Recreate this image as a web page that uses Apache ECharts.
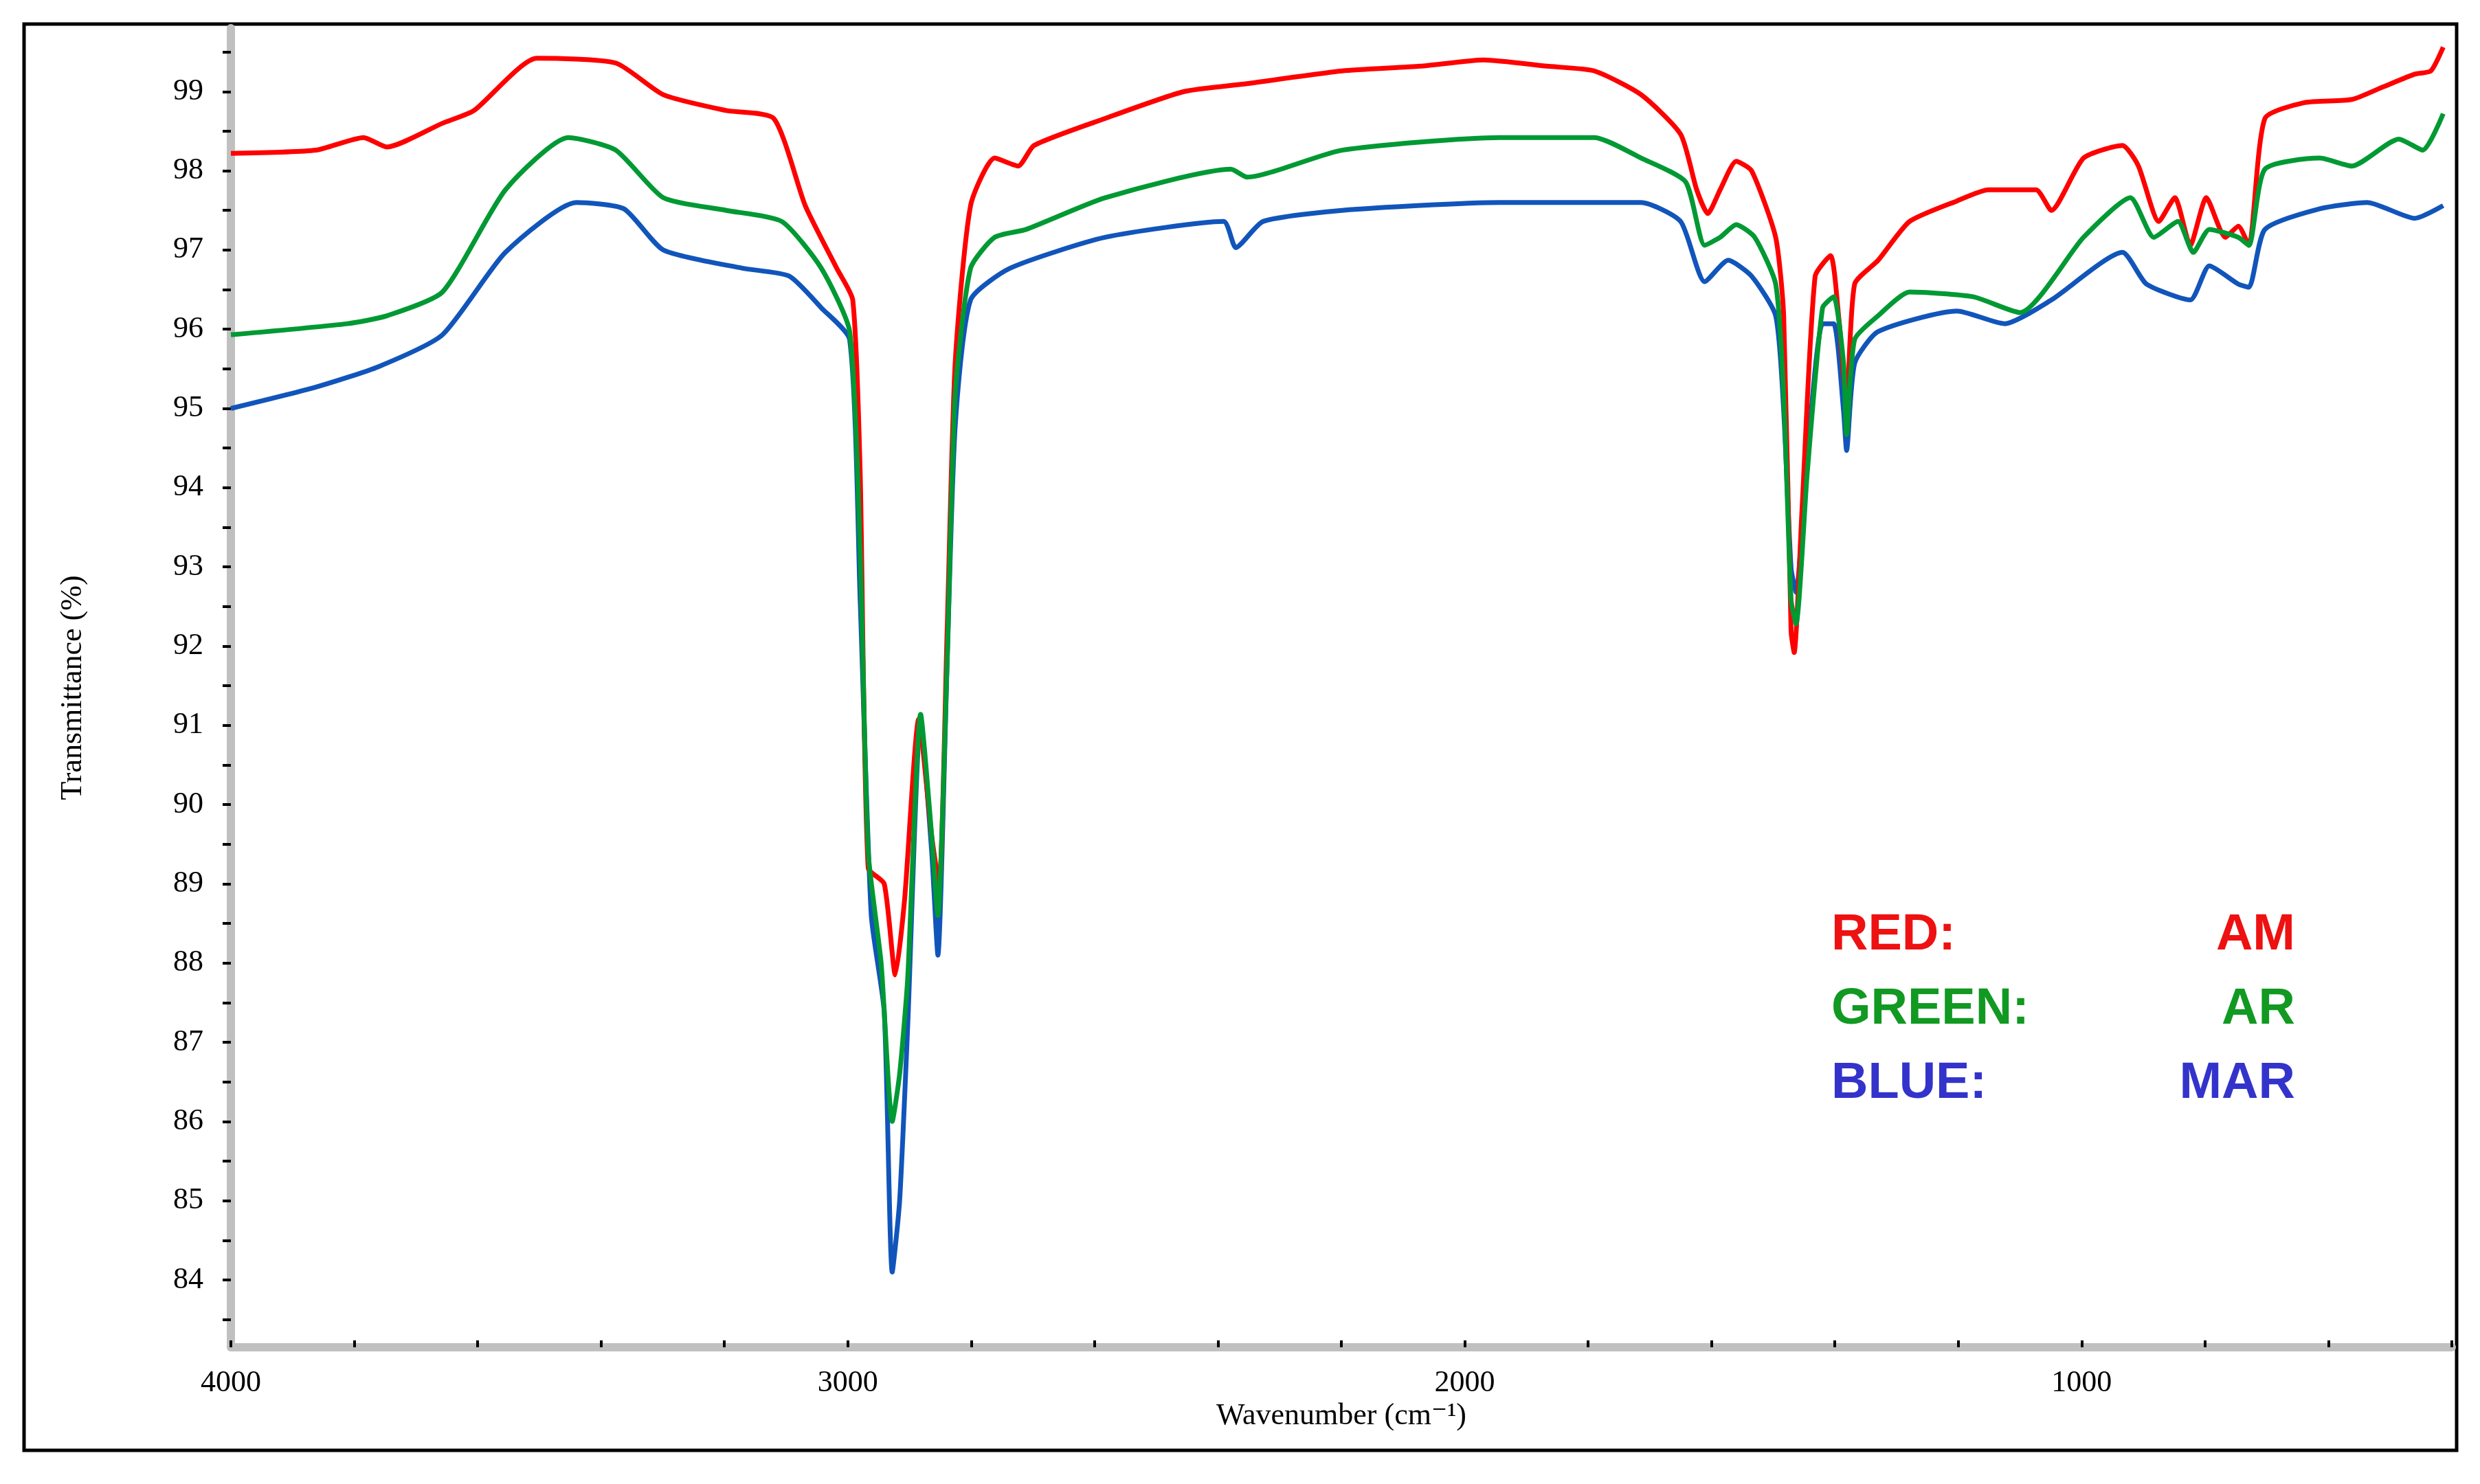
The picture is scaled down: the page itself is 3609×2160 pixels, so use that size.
<!DOCTYPE html>
<html><head><meta charset="utf-8">
<script src="https://cdn.jsdelivr.net/npm/echarts@6/dist/echarts.min.js"></script>
<style>html,body{margin:0;padding:0;background:#fff}#c{width:3609px;height:2160px}</style>
</head><body><div id="c"></div>
<script>
const redWn=[4000,3862,3785,3747,3657,3606,3504,3376,3299,3197,3120,3069,3018,2992,2980,2967,2941,2923,2908,2885,2864,2852,2839,2826,2801,2762,2724,2698,2583,2455,2353,2199,2072,1969,1867,1790,1714,1650,1624,1606,1586,1560,1535,1496,1483,1471,1466,1453,1432,1407,1394,1381,1368,1330,1279,1202,1151,1074,1049,997,934,908,875,849,824,798,767,746,729,703,639,562,511,460,434,414];
const redT=[98.22,98.26,98.42,98.3,98.6,98.76,99.42,99.36,98.96,98.76,98.66,97.56,96.77,96.37,94.2,89.2,89.0,87.85,88.8,91.08,89.6,88.98,92.2,95.57,97.56,98.16,98.06,98.32,98.66,99.0,99.1,99.26,99.32,99.4,99.32,99.26,98.96,98.46,97.76,97.46,97.76,98.12,98.0,97.16,96.17,92.18,91.92,93.77,96.67,96.93,96.17,95.07,96.57,96.87,97.36,97.62,97.76,97.76,97.5,98.16,98.32,98.06,97.36,97.66,97.06,97.66,97.16,97.3,97.06,98.66,98.86,98.9,99.06,99.22,99.26,99.56];
const greenWn=[4000,3811,3747,3657,3555,3453,3376,3299,3197,3107,3043,2997,2980,2967,2946,2928,2916,2903,2882,2864,2854,2839,2826,2801,2762,2711,2583,2379,2353,2199,1944,1790,1714,1642,1611,1586,1560,1530,1496,1483,1471,1463,1445,1420,1402,1386,1381,1368,1330,1279,1176,1100,997,921,883,844,819,793,746,729,703,614,562,486,447,414];
const greenT=[95.93,96.07,96.17,96.47,97.76,98.42,98.26,97.66,97.5,97.36,96.77,95.97,93.2,89.4,88.0,86.0,86.6,87.8,91.14,89.6,88.6,91.8,95.17,96.77,97.16,97.26,97.66,98.02,97.92,98.26,98.42,98.42,98.16,97.86,97.06,97.16,97.32,97.16,96.57,95.17,92.58,92.28,94.17,96.27,96.41,95.57,94.67,95.87,96.17,96.47,96.41,96.21,97.16,97.66,97.16,97.36,96.97,97.26,97.16,97.06,98.02,98.16,98.06,98.4,98.26,98.72];
const blueWn=[4000,3862,3760,3657,3555,3440,3363,3299,3171,3095,3043,2997,2980,2962,2941,2928,2916,2903,2882,2864,2854,2839,2826,2801,2737,2583,2391,2371,2327,2199,1944,1714,1650,1611,1573,1535,1496,1483,1471,1463,1445,1420,1402,1386,1381,1368,1330,1202,1125,1049,934,895,824,793,746,729,703,614,537,460,414];
const blueT=[95.0,95.27,95.53,95.93,96.97,97.6,97.52,97.0,96.77,96.67,96.27,95.87,92.58,88.6,87.39,84.1,85.0,87.19,91.08,89.4,88.1,91.8,94.77,96.37,96.77,97.16,97.36,97.03,97.36,97.5,97.6,97.6,97.36,96.6,96.87,96.67,96.17,94.97,92.98,92.68,94.37,96.07,96.07,94.97,94.47,95.57,95.97,96.23,96.07,96.37,96.97,96.57,96.37,96.8,96.57,96.53,97.26,97.52,97.6,97.4,97.56];
const yTickLabels=[84,85,86,87,88,89,90,91,92,93,94,95,96,97,98,99];
const xTickLabels=[1000,2000,3000,4000];
const xMinorTicks=[];for(let v=4000;v>=400;v-=200)xMinorTicks.push(v);
const yTicks=[];for(let v=83.5;v<=99.5;v+=0.5)yTicks.push(v);
const legendRows=[["RED:","AM","#ee1111"],["GREEN:","AR","#119922"],["BLUE:","MAR","#3333cc"]];
const zip=(a,b)=>a.map((v,i)=>[v,b[i]]);
const chart=echarts.init(document.getElementById('c'));
const lineS=(n,wn,t,c,z)=>({name:n,type:'line',data:zip(wn,t),showSymbol:false,smooth:0.2,z:z,lineStyle:{color:c,width:7},itemStyle:{color:c}});
const serif='"Liberation Serif","DejaVu Serif",serif';
const g=[{type:'rect',shape:{x:35,y:35,width:3540,height:2076},style:{fill:'none',stroke:'#000',lineWidth:5},z:0}];
legendRows.forEach((r,i)=>{
 g.push({type:'text',left:2665,top:1325+i*108,style:{text:r[0],fill:r[2],font:'bold 74px "Liberation Sans",Arial,sans-serif'}});
 g.push({type:'text',right:3609-3340,top:1325+i*108,style:{text:r[1],fill:r[2],font:'bold 74px "Liberation Sans",Arial,sans-serif'}});
});
chart.setOption({
 animation:false,backgroundColor:'#fff',
 grid:{left:336,right:41,top:41,bottom:199},
 xAxis:{type:'value',inverse:true,min:400,max:4000,
  name:'Wavenumber (cm\u207B\u00B9)',nameLocation:'middle',nameGap:52,nameTextStyle:{fontFamily:serif,fontSize:44,color:'#000'},
  axisLine:{lineStyle:{color:'#c0c0c0',width:12}},
  axisTick:{inside:true,length:10,customValues:xMinorTicks,lineStyle:{color:'#000',width:4}},
  axisLabel:{customValues:xTickLabels,formatter:v=>String(v),fontFamily:serif,fontSize:44,color:'#000',margin:30},
  splitLine:{show:false}},
 yAxis:{type:'value',min:83.15,max:99.8,
  name:'Transmittance (%)',nameLocation:'middle',nameGap:208,nameTextStyle:{fontFamily:serif,fontSize:44,color:'#000'},
  axisLine:{show:true,lineStyle:{color:'#c0c0c0',width:12}},
  axisTick:{show:true,length:12,customValues:yTicks,lineStyle:{color:'#000',width:4}},
  axisLabel:{customValues:yTickLabels,formatter:v=>String(v),fontFamily:serif,fontSize:44,color:'#000',margin:40},
  splitLine:{show:false}},
 series:[lineS('AM',redWn,redT,'#ff0000',3),lineS('AR',greenWn,greenT,'#009933',4),lineS('MAR',blueWn,blueT,'#1155bb',2)],
 graphic:g
});
</script></body></html>
